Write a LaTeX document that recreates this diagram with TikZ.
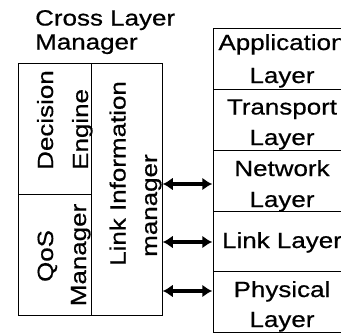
\documentclass[tikz,border=0pt]{standalone}
\usepackage{fontspec}
\setmainfont{Liberation Sans}[FakeStretch=1.18,FakeBold=0.6]
\usetikzlibrary{arrows.meta}
\begin{document}
\begin{tikzpicture}[x=1pt,y=-1pt,
  cellbox/.style={draw, line width=0.9pt, inner sep=0pt},
  lbl/.style={font=\fontsize{22}{24}\selectfont, inner sep=0pt},
  vlbl/.style={lbl, rotate=90},
  biarrow/.style={line width=3.2pt, {Latex[length=10pt,width=13pt]}-{Latex[length=10pt,width=13pt]}, shorten <=0.3pt, shorten >=0.3pt}]
\clip (0,0) rectangle (341,333);
% left manager
\node[cellbox, minimum width=73pt, minimum height=131pt] (dec) at (54.5,128.5) {};
\node[cellbox, minimum width=73pt, minimum height=121pt] (qos) at (54.5,254.5) {};
\node[cellbox, minimum width=71pt, minimum height=252pt] (lim) at (126.5,189) {};
% right stack
\node[cellbox, minimum width=138pt, minimum height=61pt] (app) at (282,58.5) {};
\node[cellbox, minimum width=138pt, minimum height=61pt] (tra) at (282,119.5) {};
\node[cellbox, minimum width=138pt, minimum height=61pt] (net) at (282,180.5) {};
\node[cellbox, minimum width=138pt, minimum height=60pt] (lnk) at (282,241) {};
\node[cellbox, minimum width=138pt, minimum height=61pt] (phy) at (282,301.5) {};
% title
\node[lbl, anchor=base west] (t1) at (35,25.5) {Cross Layer};
\node[lbl, anchor=base west] (t2) at (35,49.5) {Manager};
% vertical labels
\node[vlbl, anchor=base west] (tdec) at (53,170) {Decision};
\node[vlbl, anchor=base west] (teng) at (88,170) {Engine};
\node[vlbl, anchor=base] (tqos) at (53,256) {QoS};
\node[vlbl, anchor=base] (tman) at (86,255) {Manager};
\node[vlbl, anchor=base west] (tlim) at (125.5,266) {Link Information};
\node[vlbl, anchor=base west] (tlm) at (157,257) {manager};
% stack labels
\node[lbl, anchor=base] (ta1) at (282,50) {Application};
\node[lbl, anchor=base] (ta2) at (282,83) {Layer};
\node[lbl, anchor=base] (tt1) at (282,114.5) {Transport};
\node[lbl, anchor=base] (tt2) at (282,145) {Layer};
\node[lbl, anchor=base] (tn1) at (282,176) {Network};
\node[lbl, anchor=base] (tn2) at (282,207) {Layer};
\node[lbl, anchor=base] (tl1) at (282,248) {Link Layer};
\node[lbl, anchor=base] (tp1) at (282,297) {Physical};
\node[lbl, anchor=base] (tp2) at (282,327) {Layer};
% arrows
\coordinate (a1) at (0,184);
\coordinate (a2) at (0,242);
\coordinate (a3) at (0,291);
\draw[biarrow] (lim.east |- a1) -- (net.west |- a1);
\draw[biarrow] (lim.east |- a2) -- (lnk.west |- a2);
\draw[biarrow] (lim.east |- a3) -- (phy.west |- a3);
\end{tikzpicture}
\end{document}
